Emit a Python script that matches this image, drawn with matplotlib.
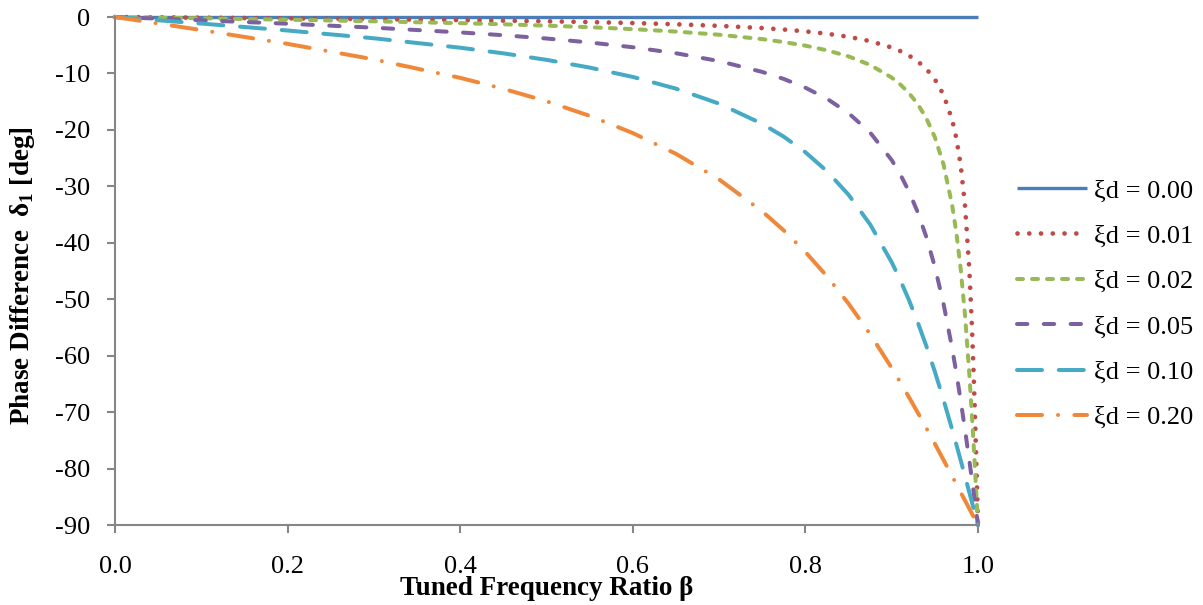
import matplotlib
matplotlib.use("Agg")
import matplotlib.pyplot as plt

# tuned frequency ratio beta (denser near 1.0)
beta = [0.0, 0.1, 0.2, 0.3, 0.4, 0.45, 0.5, 0.55, 0.6, 0.65, 0.7, 0.75, 0.775, 0.8, 0.825,
        0.85, 0.875, 0.9, 0.91, 0.92, 0.93, 0.94, 0.95, 0.96, 0.97, 0.975, 0.98, 0.985,
        0.99, 0.993, 0.995, 0.997, 0.998, 0.999, 1.0]

# phase difference delta_1 [deg] for each damping ratio
phase_000 = [0.0] * 35
phase_001 = [0.0, -0.12, -0.24, -0.38, -0.55, -0.65, -0.76, -0.90, -1.07, -1.29, -1.57, -1.96,
             -2.22, -2.55, -2.96, -3.51, -4.27, -5.41, -6.04, -6.83, -7.84, -9.17, -11.03,
             -13.76, -18.18, -21.55, -26.33, -33.49, -44.86, -54.92, -63.38, -73.27, -78.68,
             -84.29, -90.0]
phase_002 = [0.0, -0.23, -0.48, -0.76, -1.09, -1.29, -1.53, -1.81, -2.15, -2.58, -3.14, -3.92,
             -4.44, -5.08, -5.90, -6.98, -8.49, -10.73, -11.96, -13.48, -15.39, -17.90, -21.30,
             -26.09, -33.29, -38.30, -44.71, -52.92, -63.32, -70.66, -75.93, -81.46, -84.28,
             -87.14, -90.0]
phase_005 = [0.0, -0.58, -1.19, -1.89, -2.73, -3.23, -3.81, -4.51, -5.36, -6.42, -7.81, -9.73,
             -10.98, -12.53, -14.48, -17.03, -20.47, -25.35, -27.90, -30.92, -34.54, -38.92,
             -44.26, -50.76, -58.65, -63.14, -68.00, -73.18, -78.64, -82.00, -84.28, -86.56,
             -87.71, -88.85, -90.0]
phase_010 = [0.0, -1.16, -2.39, -3.77, -5.44, -6.44, -7.59, -8.96, -10.62, -12.69, -15.35, -18.93,
             -21.21, -23.96, -27.32, -31.49, -36.75, -43.45, -46.64, -50.15, -54.01, -58.24,
             -62.83, -67.79, -73.06, -75.79, -78.58, -81.41, -84.26, -85.98, -87.13, -88.28,
             -88.85, -89.43, -90.0]
phase_020 = [0.0, -2.31, -4.76, -7.51, -10.78, -12.72, -14.93, -17.51, -20.56, -24.24, -28.77,
             -34.44, -37.82, -41.63, -45.94, -50.78, -56.19, -62.18, -64.72, -67.35, -70.04,
             -72.80, -75.61, -78.46, -81.34, -82.78, -84.23, -85.68, -87.12, -87.99, -88.56,
             -89.14, -89.43, -89.71, -90.0]

labels = ["ξd = 0.00", "ξd = 0.01", "ξd = 0.02", "ξd = 0.05", "ξd = 0.10", "ξd = 0.20"]
series = [phase_000, phase_001, phase_002, phase_005, phase_010, phase_020]

colors = ["#4A7EBB", "#BE4B48", "#98B954", "#7D60A0", "#46AAC5", "#F0883A"]
widths = [2.4, 3.4, 2.88, 2.88, 2.88, 2.88]
# dash patterns in units of line width (round caps add one width to each dash)
styles = [
    "-",
    (0, (0.01, 2.48)),
    (0, (1.5, 2.25)),
    (0, (2.6, 4.1)),
    (0, (6.25, 4.2)),
    (0, (6.25, 4.0, 0.01, 4.08)),
]

plt.rcParams["font.family"] = ["Liberation Serif", "DejaVu Serif"]
plt.rcParams["mathtext.fontset"] = "custom"
plt.rcParams["mathtext.rm"] = "Liberation Serif"
plt.rcParams["mathtext.bf"] = "Liberation Serif:bold"

fig = plt.figure(figsize=(12.03, 6.05), dpi=100)
ax = fig.add_axes([115 / 1203, 1 - 525 / 605, 863 / 1203, 508 / 605])

for vals, lab, c, ls, lw in zip(series, labels, colors, styles, widths):
    ax.plot(beta, vals, color=c, linestyle=ls, linewidth=lw, label=lab,
            dash_capstyle="round", solid_capstyle="butt", clip_on=False)

ax.set_xlim(0, 1.0)
ax.set_ylim(-90, 0)
ax.set_xticks([0.0, 0.2, 0.4, 0.6, 0.8, 1.0])
ax.set_yticks(range(-90, 1, 10))
ax.set_xticklabels(["0.0", "0.2", "0.4", "0.6", "0.8", "1.0"])
ax.set_yticklabels([str(v) for v in range(-90, 1, 10)])

for side in ["top", "right"]:
    ax.spines[side].set_visible(False)
for side in ["left", "bottom"]:
    ax.spines[side].set_color("#868686")
    ax.spines[side].set_linewidth(1.5)
ax.tick_params(axis="both", direction="out", length=6, width=1.5, color="#868686",
               labelsize=19)
ax.tick_params(axis="x", pad=16)
ax.tick_params(axis="y", pad=12)

ax.set_xlabel("Tuned Frequency Ratio β", fontsize=19.5, fontweight="bold")
ax.xaxis.set_label_coords(0.5, -0.100)
ax.set_ylabel(r"Phase Difference  δ$_\mathbf{1}$ [deg]", fontsize=19.5, fontweight="bold")
ax.yaxis.set_label_coords(-0.090, 0.49)

ax.legend(loc="center left", bbox_to_anchor=(1017 / 1203, 1 - 304 / 605),
          bbox_transform=fig.transFigure, frameon=False, fontsize=19,
          handlelength=2.65, handletextpad=0.25, labelspacing=0.83, borderpad=0,
          borderaxespad=0)

fig.savefig("out.png", dpi=100)
